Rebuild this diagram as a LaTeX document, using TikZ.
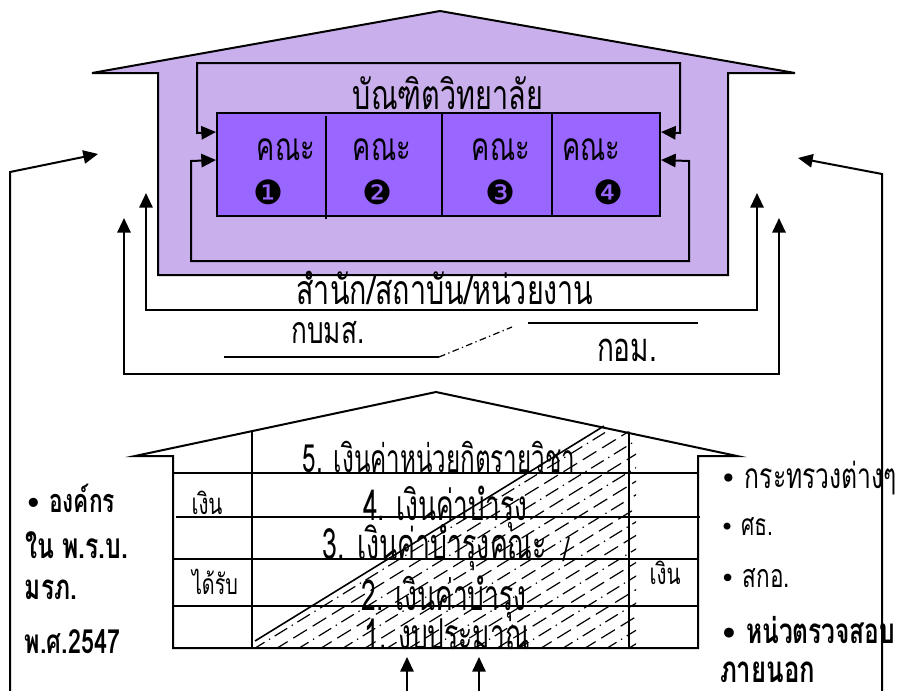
\documentclass[tikz,border=0pt]{standalone}
\usepackage{fontspec}
\usepackage{graphicx}
\setmainfont{Loma}[Script=Thai]
\newfontfamily\tc{Loma}[Script=Thai,FakeStretch=0.7]
\newfontfamily\tb{Loma}[Script=Thai,FakeStretch=0.62]
\newfontfamily\djv{DejaVu Sans}
\usetikzlibrary{arrows.meta,fit}
\newdimen\pxu \pxu=0.75pt
\newcommand\fw[2]{\resizebox{#1\pxu}{!}{#2}}
\newcommand\bul{{\djv\scalebox{0.8}{•}}}
\definecolor{housec}{HTML}{C9AFEC}
\definecolor{boxc}{HTML}{9966FF}
\begin{document}
\begin{tikzpicture}[x=0.75pt,y=-0.75pt,
  ln/.style={line width=1.5pt},
  thin/.style={line width=1.2pt},
  arr/.style={-{Triangle[length=11pt,width=10pt]}},
  dbl/.style={{Triangle[length=11pt,width=10pt]}-{Triangle[length=11pt,width=10pt]}},
  lbl/.style={inner sep=0pt,outer sep=0pt}]
\useasboundingbox (0,0) rectangle (900,690);

% ---------- top house ----------
\draw[ln,fill=housec] (92,73) -- (440,11) -- (795,73) -- (728,73) -- (728,275) -- (158,275) -- (158,73) -- cycle;
\coordinate (fNW) at (217,113);
\coordinate (fSE) at (660,216);
\node[draw,line width=1.5pt,fill=boxc,fit=(fNW)(fSE),inner sep=0pt] (fac) {};
\draw[thin] (326,116) -- (326,219);
\draw[thin] (442,113) -- (442,216);
\draw[thin] (552,113) -- (552,216);

\draw[ln,dbl] ([yshift=-15pt]fac.north west) -- (197,133) -- (197,63) -- (680,63) -- (680,133) -- ([yshift=-15pt]fac.north east);
\draw[ln,dbl] ([yshift=-36pt]fac.north west) -- (191,161) -- (191,261) -- (689,261) -- (689,161) -- ([yshift=-36pt]fac.north east);

\node[lbl] (grad) at (448,93) {\fw{190}{\tc บัณฑิตวิทยาลัย}};
\node[lbl] (k1) at (286,150) {\fw{58}{\tc คณะ}};
\node[lbl] (k2) at (382,150) {\fw{58}{\tc คณะ}};
\node[lbl] (k3) at (501,150) {\fw{58}{\tc คณะ}};
\node[lbl] (k4) at (591,150) {\fw{58}{\tc คณะ}};
\node[lbl] (n1) at (268,192) {\fw{30}{\djv ❶}};
\node[lbl] (n2) at (377,192) {\fw{30}{\djv ❷}};
\node[lbl] (n3) at (500,192) {\fw{30}{\djv ❸}};
\node[lbl] (n4) at (608,192) {\fw{30}{\djv ❹}};

% ---------- loops outside ----------
\coordinate (mL) at (146,193);
\coordinate (mR) at (757,193);
\draw[ln,dbl] (mL) -- (146,310) -- (757,310) -- (mR);
\coordinate (oL) at (124,218);
\coordinate (oR) at (779,218);
\draw[ln,dbl] (oL) -- (124,374) -- (779,374) -- (oR);

\coordinate (lb) at (10,695);
\coordinate (lt) at (98,154);
\draw[ln,arr] (lb) -- (10,172) -- (lt);
\coordinate (rb) at (882,695);
\coordinate (rt) at (798,158);
\draw[ln,arr] (rb) -- (882,174) -- (rt);

\node[lbl,anchor=base] (org) at (445,304) {\fw{297}{\tc สำนัก/สถาบัน/หน่วยงาน}};
\node[lbl,anchor=base] (kbms) at (328,343) {\fw{73}{\tc กบมส.}};
\node[lbl,anchor=base] (kom) at (627,361) {\fw{60}{\tc กอม.}};
\draw[thin] (224,357) -- (439,357);
\draw[line width=0.9pt,dash pattern=on 5pt off 2.5pt on 1pt off 2.5pt] (439,357) -- (512,327);
\draw[thin] (528,323) -- (698,323);

% ---------- bottom house ----------
\begin{scope}
\clip (255,641) -- (604,426) -- (636,433) -- (636,647) -- (255,647) -- cycle;
\foreach \k in {0,...,9} {
  \draw[line width=0.9pt,dash pattern=on 11pt off 4pt on 1pt off 4pt] ({252+44*\k},650) -- ++(420,-258.7);
  \draw[line width=0.9pt,dash pattern=on 12pt off 5pt] ({274+44*\k},650) -- ++(420,-258.7);
}
\end{scope}
\draw[thin] (255,641) -- (604,426);

\draw[ln] (135,456) -- (436,392) -- (737,456) -- (698,456) -- (698,648) -- (173,648) -- (173,456) -- cycle;
\draw[thin] (252,431) -- (252,648);
\draw[thin] (629,433) -- (629,648);
\draw[thin] (173,473) -- (698,473);
\draw[line width=2pt] (176,517) -- (700,517);
\draw[thin] (173,559) -- (698,559);
\draw[thin] (173,606) -- (698,606);

\node[lbl,anchor=base] (t5) at (439,472) {\fw{272}{\tb 5. เงินค่าหน่วยกิตรายวิชา}};
\node[lbl,anchor=base] (t4) at (445,520) {\fw{164}{\tb 4. เงินค่าบำรุง}};
\node[lbl,anchor=base] (t3) at (435,559) {\fw{224}{\tb 3. เงินค่าบำรุงคณะ}};
\node[lbl] (sl) at (566,550) {\fw{6}{\tb /}};
\node[lbl,anchor=base] (t2) at (444,610) {\fw{165}{\tb 2. เงินค่าบำรุง}};
\node[lbl,anchor=base] (t1) at (447,649) {\fw{165}{\tb 1. งบประมาณ}};

\node[lbl] (gl) at (207,503) {\fw{31}{\tc เงิน}};
\node[lbl] (rcv) at (215,582) {\fw{46}{\tc ได้รับ}};
\node[lbl] (gr) at (665,573) {\fw{31}{\tc เงิน}};

\coordinate (b1s) at (407,695);
\coordinate (b1t) at (407,657);
\draw[ln,arr] (b1s) -- (b1t);
\coordinate (b2s) at (479,695);
\coordinate (b2t) at (479,657);
\draw[ln,arr] (b2s) -- (b2t);

% ---------- side lists ----------
\node[lbl,anchor=west] (a1) at (25,498) {\fw{90}{\tc\bfseries\bul{} องค์กร}};
\node[lbl,anchor=west] (a2) at (25,545) {\fw{103}{\tc\bfseries ใน พ.ร.บ.}};
\node[lbl,anchor=west] (a3) at (25,590) {\fw{52}{\tc\bfseries มรภ.}};
\node[lbl,anchor=west] (a4) at (25,642) {\fw{95}{\tc\bfseries พ.ศ.2547}};

\node[lbl,anchor=west] (r1) at (720,478) {\fw{177}{\tc\bul{} กระทรวงต่างๆ}};
\node[lbl,anchor=west] (r2) at (720,527) {\fw{53}{\tc\bul{} ศธ.}};
\node[lbl,anchor=west] (r3) at (720,578) {\fw{70}{\tc\bul{} สกอ.}};
\node[lbl,anchor=west] (r4) at (720,630) {\fw{175}{\tc\bfseries\bul{} หน่วตรวจสอบ}};
\node[lbl,anchor=base west] (r5) at (720,682) {\fw{95}{\tc\bfseries ภายนอก}};
\end{tikzpicture}
\end{document}
